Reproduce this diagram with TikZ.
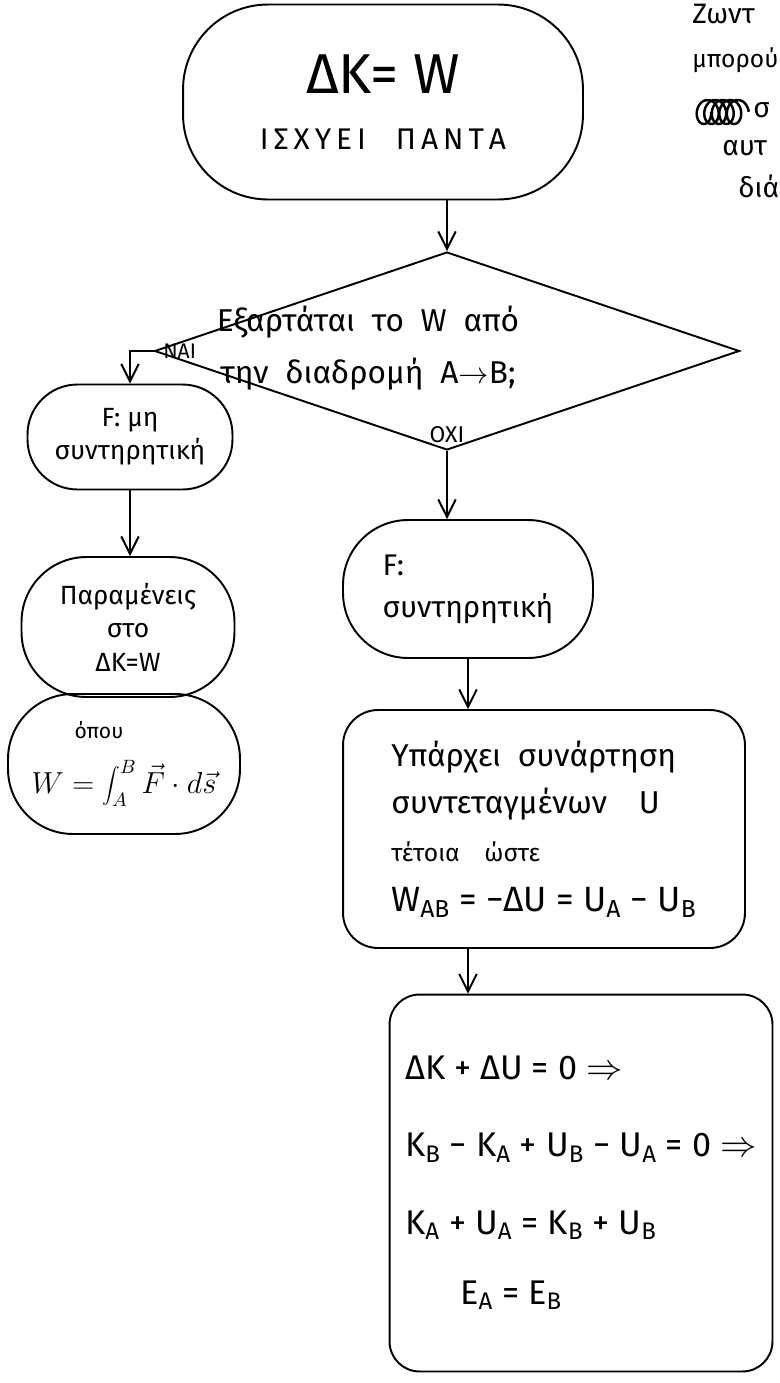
\documentclass[tikz,border=0pt]{standalone}
\usepackage{fontspec}
\setmainfont{Fira Sans}
\usepackage{tikz}
\usetikzlibrary{arrows.meta,positioning,calc,shapes.geometric}

\begin{document}
\begin{tikzpicture}[x=0.02cm,y=-0.02cm,
blob/.style={draw,line width=1.1pt,rounded corners=#1,align=center},blob/.default=1cm,
box/.style={draw,line width=1.1pt,rounded corners=0.7cm,align=left},
flow/.style={line width=1.1pt,-{Straight Barb[length=3.5mm,width=3.5mm]}},
note/.style={font=\fontsize{16}{20}\selectfont,anchor=west,inner sep=0pt}]
\useasboundingbox (0,0) rectangle (779,1383);
\node[blob=1.7cm,minimum width=8cm,minimum height=3.9cm] (start) at (383,102)
  {{\fontsize{32}{38}\selectfont ΔK= W}\\[20pt]{\fontsize{17}{19}\selectfont Ι\,Σ\,Χ\,Υ\,Ε\,Ι\quad Π\,Α\,Ν\,Τ\,Α}};
\node[draw,diamond,aspect=3,line width=1.1pt,minimum width=11.7cm,minimum height=3.96cm,inner sep=0pt] (dec) at (447,351) {};
\node[align=center,font=\fontsize{18}{30}\selectfont] (ask) at (368,348)
  {Εξαρτάται\ \ το\ \ W\ \ από\\την\ \ διαδρομή\ \ Α$\rightarrow$Β;};
\node[font=\fontsize{12}{14}\selectfont,right=2pt of dec.west] (yes) {ΝΑΙ};
\node[font=\fontsize{13}{15}\selectfont,above=1pt of dec.south] (no) {ΟΧΙ};
\node[blob=1cm,minimum width=4.1cm,minimum height=2.1cm,font=\fontsize{15}{19}\selectfont] (nonc) at (130,437)
  {F: μη\\συντηρητική};
\node[blob=1.3cm,minimum width=4.26cm,minimum height=2.8cm,font=\fontsize{15}{19}\selectfont] (stay) at (128,627)
  {Παραμένεις\\στο\\ΔK=W};
\node[blob=1.3cm,minimum width=4.64cm,minimum height=2.8cm,font=\fontsize{16}{18}\selectfont] (work) at (124,764)
  {{\fontsize{12}{14}\selectfont όπου}\hspace*{1cm}\\[11pt]$\displaystyle W=\int_A^B\vec F\cdot d\vec s$};
\node[blob=1.3cm,minimum width=5cm,minimum height=2.76cm,align=left,font=\fontsize{17}{24}\selectfont] (cons) at (468,589)
  {F:\\συντηρητική};
\node[box,minimum width=8.04cm,minimum height=4.76cm,font=\fontsize{18}{27}\selectfont] (pot) at (544,829)
  {Υπάρχει\ \ συνάρτηση\\συντεταγμένων\quad U\\{\fontsize{14}{16}\selectfont τέτοια\quad ώστε}\\[2pt]
   {\fontsize{20}{24}\selectfont W\textsubscript{AB} = −ΔU = U\textsubscript{A} − U\textsubscript{B}}};
\node[box,rounded corners=0.6cm,minimum width=7.66cm,minimum height=7.54cm,font=\fontsize{19.5}{44}\selectfont] (energy) at (581,1183)
  {ΔK + ΔU = 0 $\Rightarrow$\\
   K\textsubscript{B} − K\textsubscript{A} + U\textsubscript{B} − U\textsubscript{A} = 0 $\Rightarrow$\\
   K\textsubscript{A} + U\textsubscript{A} = K\textsubscript{B} + U\textsubscript{B}\\[-4pt]
   \hspace*{1.1cm}E\textsubscript{A} = E\textsubscript{B}};
\draw[flow] (start.south -| dec.north) -- (dec.north);
\draw[flow] (dec.west) -| (nonc.north);
\draw[flow] (nonc.south) -- (nonc.south |- stay.north);
\draw[flow] (dec.south) -- (dec.south |- cons.north);
\draw[flow] (cons.south) -- (cons.south |- pot.north);
\draw[flow] (pot.south -| cons.south) -- (cons.south |- energy.north);
\node[note] (n1) at (692,14) {Ζωντ};
\node[note,font=\fontsize{14}{18}\selectfont] (n2) at (692,60) {μπορού};
\node[note] (n3) at (753,110) {σ};
\node[note] (n4) at (722,148) {αυτ};
\node[note] (n5) at (738,186) {διά};
\draw[line width=1.4pt] plot[domain=0:31.4,samples=200] ({702+1.2*\x+9*cos(\x r)},{112+12*sin(\x r)});
\end{tikzpicture}
\end{document}
